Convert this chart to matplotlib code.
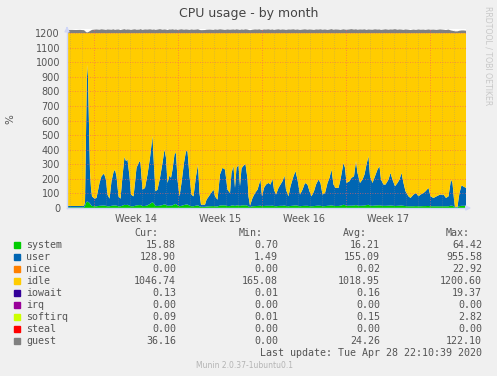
import numpy as np
import matplotlib
matplotlib.use("Agg")
import matplotlib.pyplot as plt
from matplotlib.patches import Rectangle

# hours since left edge of graph
hours = [0, 2, 10, 18, 26, 34, 36, 38, 40, 42,
         44, 46, 48, 50, 55, 59, 65, 69, 74, 78, 81, 85,
         89, 93, 96, 99, 103, 107, 111, 115, 118, 121,
         125, 128, 133, 136, 139, 145, 147, 151, 156, 161,
         166, 171, 174, 177, 181, 186, 191, 195, 198, 201,
         205, 208, 211, 215, 218, 221, 225, 229, 234, 238,
         241, 245, 249, 253, 258, 262, 265, 268, 276, 279,
         286, 293, 296, 301, 306, 311, 316, 321, 326, 329,
         333, 336, 339, 343, 346, 349, 353, 357, 361, 363,
         366, 371, 376, 381, 385, 387, 390, 394, 398, 403,
         407, 411, 414, 418, 423, 427, 431, 435, 438, 443,
         447, 453, 457, 461, 466, 471, 476, 481, 485, 489,
         494, 498, 503, 507, 511, 516, 521, 525, 529, 533,
         537, 543, 547, 553, 556, 559, 565, 569, 574, 578,
         581, 586, 591, 595, 599, 603, 606, 611, 616, 621,
         625, 628, 633, 637, 643, 647, 651, 656, 661, 665,
         669, 673, 677, 683, 687, 693, 698, 703, 707, 713,
         717, 723, 727, 733, 739, 746, 753, 758, 763, 768,
         771, 774, 776, 781, 783, 785, 789, 794, 798]

system = [40, 4, 4, 4, 4, 5, 15, 35, 45, 42,
          38, 30, 20, 14, 12, 12, 15, 16, 17, 15, 12, 12,
          15, 17, 18, 16, 12, 12, 16, 22, 20, 22,
          16, 12, 12, 15, 18, 20, 20, 13, 14, 18,
          28, 40, 30, 15, 14, 16, 20, 25, 22, 15,
          16, 16, 18, 25, 28, 18, 12, 15, 20, 24,
          24, 16, 12, 12, 16, 18, 12, 8, 8, 10,
          12, 13, 12, 11, 17, 18, 18, 14, 13, 17,
          18, 14, 18, 18, 14, 18, 18, 19, 15, 12,
          6, 12, 13, 14, 15, 16, 12, 14, 15, 15,
          15, 16, 14, 12, 14, 15, 15, 17, 14, 12,
          14, 16, 18, 16, 12, 14, 15, 15, 13, 12,
          13, 15, 16, 15, 12, 13, 15, 16, 18, 15,
          14, 14, 16, 22, 20, 15, 16, 16, 17, 20,
          17, 15, 16, 17, 20, 22, 17, 15, 17, 18,
          19, 16, 15, 15, 16, 17, 16, 14, 15, 16,
          17, 15, 13, 12, 12, 12, 13, 12, 12, 13,
          13, 14, 12, 12, 12, 12, 12, 12, 12, 16,
          15, 10, 3, 3, 10, 13, 15, 15, 15]

user = [760, 11, 10, 10, 10, 10, 25, 465, 940, 858,
        532, 220, 117, 66, 52, 57, 157, 202, 220, 180, 80, 52,
        169, 229, 246, 202, 68, 52, 202, 330, 302, 311,
        202, 80, 68, 157, 258, 302, 290, 113, 124, 212,
        317, 454, 257, 100, 112, 191, 290, 377, 323, 157,
        207, 191, 246, 343, 352, 177, 68, 157, 290, 366,
        366, 202, 80, 68, 202, 281, 91, 15, 15, 47,
        80, 113, 68, 46, 213, 258, 246, 112, 90, 224,
        269, 124, 258, 277, 136, 254, 272, 283, 185, 68,
        10, 57, 90, 112, 157, 179, 68, 124, 146, 157,
        146, 184, 112, 80, 124, 146, 169, 206, 112, 68,
        135, 202, 235, 179, 80, 112, 157, 146, 102, 68,
        102, 146, 179, 157, 80, 90, 157, 191, 246, 146,
        124, 124, 179, 288, 256, 157, 168, 191, 201, 302,
        224, 157, 179, 213, 279, 334, 201, 157, 201, 246,
        268, 179, 146, 146, 179, 224, 179, 135, 157, 179,
        224, 157, 102, 68, 57, 80, 90, 68, 80, 90,
        102, 124, 68, 57, 68, 80, 80, 57, 68, 179,
        157, 50, 4, 4, 50, 90, 141, 130, 123]

guest = [20, 22, 22, 21, 22, 20, 14, 8, 4, 6,
         10, 14, 18, 22, 24, 25, 23, 26, 24, 22, 25, 24,
         23, 26, 22, 24, 25, 21, 24, 27, 23, 25,
         24, 22, 25, 26, 23, 24, 27, 22, 25, 24,
         26, 23, 25, 22, 24, 27, 23, 25, 24, 21,
         25, 24, 26, 23, 25, 22, 24, 26, 23, 25,
         24, 22, 25, 23, 24, 26, 22, 20, 21, 23,
         24, 22, 25, 23, 26, 24, 22, 25, 23, 24,
         25, 23, 26, 24, 22, 25, 23, 26, 24, 22,
         20, 23, 25, 24, 26, 23, 22, 25, 24, 26,
         23, 25, 22, 24, 26, 23, 25, 24, 22, 25,
         24, 26, 23, 25, 22, 24, 26, 23, 25, 24,
         22, 25, 24, 26, 23, 25, 22, 24, 27, 23,
         25, 24, 22, 26, 24, 23, 25, 27, 24, 26,
         23, 25, 24, 26, 22, 25, 24, 23, 26, 24,
         25, 22, 24, 26, 23, 25, 24, 27, 23, 25,
         24, 22, 25, 23, 21, 24, 22, 25, 23, 24,
         22, 25, 23, 24, 22, 25, 23, 21, 24, 18,
         16, 14, 12, 12, 14, 16, 18, 18, 16]

week_labels = ["Week 14", "Week 15", "Week 16", "Week 17"]

names = ["system", "user", "nice", "idle", "iowait", "irq", "softirq", "steal", "guest"]
colors = ["#00CC00", "#0066B3", "#FF8000", "#FFCC00", "#330099",
          "#990099", "#CCFF00", "#FF0000", "#808080"]
cur = [15.88, 128.90, 0.00, 1046.74, 0.13, 0.00, 0.09, 0.00, 36.16]
mins = [0.70, 1.49, 0.00, 165.08, 0.01, 0.00, 0.01, 0.00, 0.00]
avgs = [16.21, 155.09, 0.02, 1018.95, 0.16, 0.00, 0.15, 0.00, 24.26]
maxs = [64.42, 955.58, 22.92, 1200.60, 19.37, 0.00, 2.82, 0.00, 122.10]

assert len(hours) == len(system) == len(user) == len(guest)

hours = np.array(hours)
system = np.array(system, dtype=float)
user = np.array(user, dtype=float)
guest = np.array(guest, dtype=float)
idle = 1200 - system - user

W, H = 497, 376
def fx(px):
    return px / W
def fy(py):
    return 1 - py / H

fig = plt.figure(figsize=(W / 100, H / 100), dpi=100, facecolor="#F0F0F0")
ax = fig.add_axes([fx(67), fy(208), fx(466) - fx(67), fy(29) - fy(208)])
ax.set_facecolor("white")

ax.stackplot(hours, system, user, idle, guest,
             colors=[colors[0], colors[1], colors[3], colors[8]], linewidth=0)

ax.set_xlim(0, 798)
ax.set_ylim(0, 1228)

# grid on top of the areas, rrdtool style
for d in range(6, 798, 24):
    if (d - 54) % 168 == 0:
        ax.axvline(d, color="#F95F5F", lw=0.6, ls=(0, (1, 2)), alpha=0.8, zorder=3)
    else:
        ax.axvline(d, color="#8F8F8F", lw=0.5, ls=(0, (1, 2)), alpha=0.6, zorder=3)
for v in range(100, 1201, 100):
    ax.axhline(v, color="#F95F5F", lw=0.6, ls=(0, (1, 2)), alpha=0.8, zorder=3)

ax.set_yticks(range(0, 1201, 100))
ax.set_xticks([138, 306, 474, 642])
ax.set_xticklabels(week_labels)
ax.tick_params(axis="both", length=0, labelsize=7, colors="#555555")
ax.tick_params(axis="y", pad=5)
ax.tick_params(axis="x", pad=4)

for s in ["top", "right"]:
    ax.spines[s].set_visible(False)
for s in ["bottom", "left"]:
    ax.spines[s].set_color("#CFD6F8")
    ax.spines[s].set_linewidth(1)
    ax.spines[s].set_zorder(4)
ax.annotate("", xy=(1.02, 0), xytext=(0.995, 0), xycoords="axes fraction",
            arrowprops=dict(arrowstyle="-|>", color="#CFD6F8", lw=1,
                            mutation_scale=7), annotation_clip=False)
ax.annotate("", xy=(0, 1.03), xytext=(0, 0.99), xycoords="axes fraction",
            arrowprops=dict(arrowstyle="-|>", color="#CFD6F8", lw=1,
                            mutation_scale=7), annotation_clip=False)

fig.text(fx(249), fy(13), "CPU usage - by month", ha="center", va="center",
         fontsize=9, color="#444444")
fig.text(fx(10), fy(119), "%", ha="center", va="center", rotation=90,
         fontsize=7.5, color="#555555")
fig.text(fx(488), fy(56), "RRDTOOL / TOBI OETIKER", ha="center", va="center",
         rotation=270, fontsize=5.6, color="#C8C8C8")

mono = dict(family="DejaVu Sans Mono", fontsize=7.2, color="#555555")
col_val = [176, 278, 380, 482]
col_head = [158, 263, 367, 470]
for hx, t in zip(col_head, ["Cur:", "Min:", "Avg:", "Max:"]):
    fig.text(fx(hx), fy(233.5), t, ha="right", va="center", **mono)

for i, name in enumerate(names):
    ry = 245 + 12 * i
    fig.patches.append(Rectangle((fx(14), fy(ry + 3)), 6 / W, 6 / H,
                                 transform=fig.transFigure, color=colors[i]))
    fig.text(fx(26), fy(ry), name, ha="left", va="center", **mono)
    for cx, vals in zip(col_val, [cur, mins, avgs, maxs]):
        fig.text(fx(cx), fy(ry), "%.2f" % vals[i], ha="right", va="center", **mono)

fig.text(fx(482), fy(353), "Last update: Tue Apr 28 22:10:39 2020",
         ha="right", va="center", **mono)
fig.text(fx(245), fy(366), "Munin 2.0.37-1ubuntu0.1", ha="center", va="center",
         fontsize=5.5, color="#B4B4B4")

fig.savefig("out.png", dpi=100, facecolor=fig.get_facecolor())
